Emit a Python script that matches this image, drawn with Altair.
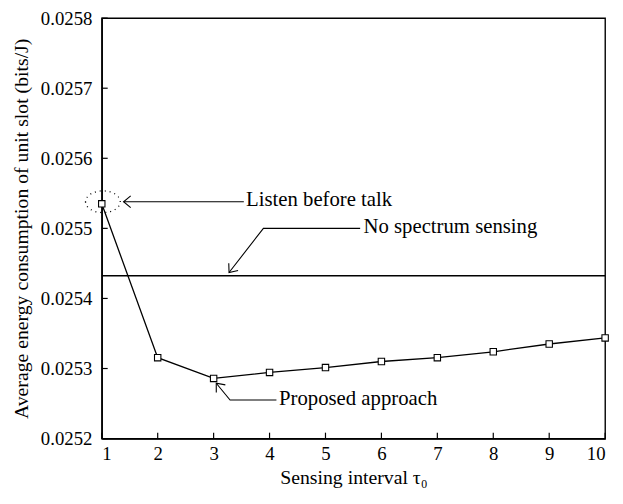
import altair as alt
import pandas as pd

# Data
tau = [1, 2, 3, 4, 5, 6, 7, 8, 9, 10]
energy = [0.025535, 0.0253155, 0.0252859, 0.0252944, 0.0253014,
          0.025310, 0.0253155, 0.0253239, 0.025335, 0.0253437]
no_sensing = 0.0254324

x_ticks = [1, 2, 3, 4, 5, 6, 7, 8, 9, 10]
y_ticks = [0.0252, 0.0253, 0.0254, 0.0255, 0.0256, 0.0257, 0.0258]

# annotation leader lines (data coordinates)
ann_group = ["lbt", "lbt", "nss", "nss", "nss", "pa", "pa", "pa"]
ann_order = [0, 1, 0, 1, 2, 0, 1, 2]
ann_x = [3.54, 1.39, 5.62, 3.89, 3.276, 4.123, 3.294, 3.047]
ann_y = [0.025538, 0.025538, 0.02550, 0.02550, 0.025437, 0.025255, 0.025255, 0.025279]

head_x = [1.39, 3.276, 3.047]
head_y = [0.025538, 0.025437, 0.025279]
head_angle = [0, 308, 50]

label_text = ["Listen before talk", "No spectrum sensing", "Proposed approach"]
label_x = [3.58, 5.68, 4.17]
label_y = [0.025540, 0.025502, 0.025257]

FONT = "Liberation Serif"
W, H = 510, 426

xs = alt.Scale(domain=[1, 10], nice=False)
ys = alt.Scale(domain=[0.0252, 0.0258], nice=False, zero=False)

df = pd.DataFrame({"tau": tau, "energy": energy})
ann = pd.DataFrame({"g": ann_group, "o": ann_order, "x": ann_x, "y": ann_y})
heads = pd.DataFrame({"x": head_x, "y": head_y, "a": head_angle})
labels = pd.DataFrame({"t": label_text, "x": label_x, "y": label_y})
xt = pd.DataFrame({"v": x_ticks})
yt = pd.DataFrame({"v": y_ticks})
hline = pd.DataFrame({"x": [1, 10], "y": [no_sensing, no_sensing]})
ell = pd.DataFrame({"x": [1.02], "y": [0.025538]})

axis_style = dict(labelFont=FONT, titleFont=FONT, labelFontSize=19,
                  titleFontSize=20, titleFontWeight="normal",
                  labelColor="black", titleColor="black",
                  domainColor="black", domainWidth=1.4,
                  ticks=False, tickSize=0, grid=False)

line = alt.Chart(df).mark_line(color="black", strokeWidth=1.3).encode(
    x=alt.X("tau:Q", scale=xs,
            axis=alt.Axis(values=x_ticks, title="Sensing interval τ₀",
                          labelPadding=6, titlePadding=4, format="d",
                          **axis_style)),
    y=alt.Y("energy:Q", scale=ys,
            axis=alt.Axis(values=y_ticks, format=".4f",
                          title="Average energy consumption of unit slot (bits/J)",
                          labelPadding=10, titlePadding=9, **axis_style)),
)
pts = alt.Chart(df).mark_point(shape="square", size=42, filled=True,
                               fill="white", stroke="black", strokeWidth=1.1, opacity=1).encode(
    x=alt.X("tau:Q", scale=xs), y=alt.Y("energy:Q", scale=ys))

hl = alt.Chart(hline).mark_line(color="black", strokeWidth=1.3).encode(
    x=alt.X("x:Q", scale=xs), y=alt.Y("y:Q", scale=ys))

xtick = alt.Chart(xt).mark_rule(color="black", strokeWidth=1.2).encode(
    x=alt.X("v:Q", scale=xs), y=alt.value(H), y2=alt.value(H - 6))
ytick = alt.Chart(yt).mark_rule(color="black", strokeWidth=1.2).encode(
    y=alt.Y("v:Q", scale=ys), x=alt.value(0), x2=alt.value(6))

leaders = alt.Chart(ann).mark_line(color="black", strokeWidth=1.1).encode(
    x=alt.X("x:Q", scale=xs), y=alt.Y("y:Q", scale=ys),
    detail="g:N", order="o:Q")

arrow = alt.Chart(heads).mark_point(
    shape="M1.2,-1L0,0L1.2,1", size=144, filled=False,
    stroke="black", strokeWidth=1.1, opacity=1).encode(
    x=alt.X("x:Q", scale=xs), y=alt.Y("y:Q", scale=ys),
    angle=alt.Angle("a:Q", scale=None))

ellipse = alt.Chart(ell).mark_point(
    shape="M-1.6,0A1.6,1,0,1,0,1.6,0A1.6,1,0,1,0,-1.6,0", size=484,
    filled=False, stroke="black", strokeWidth=1.3, strokeDash=[1, 4], opacity=1).encode(
    x=alt.X("x:Q", scale=xs), y=alt.Y("y:Q", scale=ys))

txt = alt.Chart(labels).mark_text(align="left", baseline="middle",
                                  font=FONT, fontSize=21, color="black").encode(
    x=alt.X("x:Q", scale=xs), y=alt.Y("y:Q", scale=ys), text="t:N")

chart = alt.layer(hl, leaders, arrow, ellipse, line, pts, xtick, ytick, txt).properties(
    width=W, height=H,
    background="white",
    autosize=alt.AutoSizeParams(type="none"),
    padding={"left": 95, "top": 7, "right": 10, "bottom": 63},
).configure_view(stroke="black", strokeWidth=1.4)

chart.save("out.html", embed_options={"renderer": "svg", "actions": False})
